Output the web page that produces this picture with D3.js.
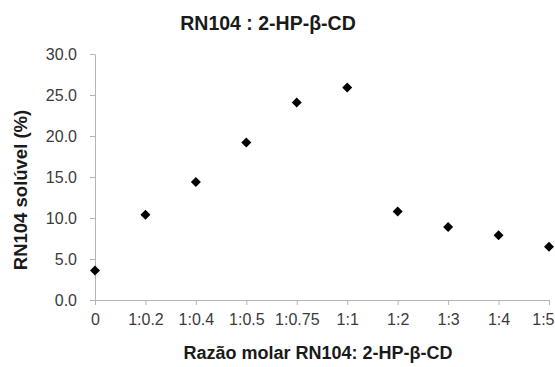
<!DOCTYPE html>
<html>
<head>
    <meta charset="UTF-8">
    <script src="https://d3js.org/d3.v7.min.js"></script>
    <style>
        body { margin: 0; background: #fff; }
        text { font-family: Arial, "Liberation Sans", sans-serif; }
        .axis path, .axis line { stroke: #b5b5b5; }
        .axis text { fill: #3a3a3a; font-size: 16px; }
    </style>
</head>
<body>
    <svg width="555" height="367"></svg>
    <script>
        // dados
        var categorias = ["0", "1:0.2", "1:0.4", "1:0.5", "1:0.75", "1:1", "1:2", "1:3", "1:4", "1:5"];
        var valores = [3.6, 10.4, 14.4, 19.2, 24.1, 25.9, 10.8, 8.9, 7.9, 6.5];
        var yTicks = [0, 5, 10, 15, 20, 25, 30];

        var svg = d3.select("svg");

        var x = d3.scalePoint().domain(categorias).range([95, 549]);
        var y = d3.scaleLinear().domain([0, 30]).range([300, 54]);

        // eixo y
        svg.append("g")
            .attr("class", "axis")
            .attr("transform", "translate(95,0)")
            .call(d3.axisLeft(y).tickValues(yTicks).tickSize(5).tickSizeOuter(0).tickPadding(13)
                .tickFormat(d3.format(".1f")));

        // eixo x
        var gx = svg.append("g")
            .attr("class", "axis")
            .attr("transform", "translate(0,300)")
            .call(d3.axisBottom(x).tickSize(5).tickSizeOuter(0).tickPadding(9));

        // ultimo rotulo encostado na borda
        gx.selectAll(".tick").filter(function(d) { return d === "1:5"; })
            .select("text")
            .attr("text-anchor", "end")
            .attr("x", 5);

        // pontos
        svg.selectAll(".ponto")
            .data(valores)
            .enter()
            .append("path")
            .attr("class", "ponto")
            .attr("d", d3.symbol().type(d3.symbolSquare).size(50))
            .attr("fill", "#000")
            .attr("transform", function(d, i) {
                return "translate(" + x(categorias[i]) + "," + y(d) + ") rotate(45)";
            });

        // titulos
        svg.append("text")
            .attr("x", 268).attr("y", 30)
            .attr("text-anchor", "middle")
            .attr("font-size", "19.5px")
            .attr("font-weight", "bold")
            .attr("fill", "#1a1a1a")
            .text("RN104 : 2-HP-β-CD");

        svg.append("text")
            .attr("x", 318).attr("y", 359)
            .attr("text-anchor", "middle")
            .attr("font-size", "18px")
            .attr("font-weight", "bold")
            .attr("fill", "#1a1a1a")
            .text("Razão molar RN104: 2-HP-β-CD");

        svg.append("text")
            .attr("transform", "translate(27,190) rotate(-90)")
            .attr("text-anchor", "middle")
            .attr("font-size", "18.5px")
            .attr("font-weight", "bold")
            .attr("fill", "#1a1a1a")
            .text("RN104 solúvel (%)");
    </script>
</body>
</html>
